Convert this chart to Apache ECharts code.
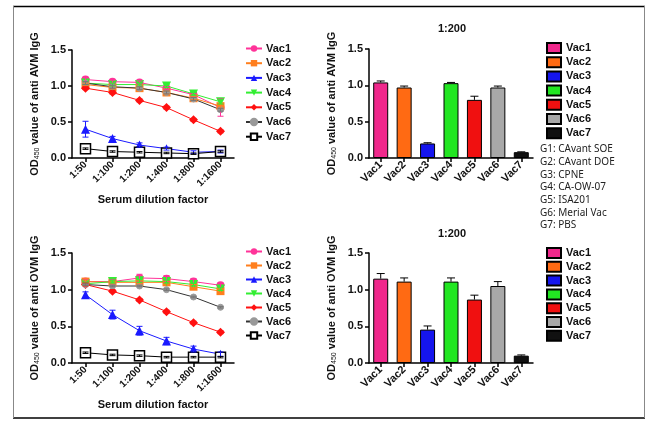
<!DOCTYPE html>
<html><head><meta charset="utf-8">
<script src="https://cdn.jsdelivr.net/npm/echarts@6/dist/echarts.min.js"></script>
<style>html,body{margin:0;padding:0;background:#fff}#c{width:666px;height:424px}</style>
</head><body><div id="c"></div>
<script>
const dilutions = ['1:50','1:100','1:200','1:400','1:800','1:1600'];
const groups = ['Vac1','Vac2','Vac3','Vac4','Vac5','Vac6','Vac7'];
const groupNotes = ['G1: CAvant SOE','G2: CAvant DOE','G3: CPNE','G4: CA-OW-07','G5: ISA201','G6: Merial Vac','G7: PBS'];
const yTicks = [0, 0.5, 1.0, 1.5];

// anti-AVM IgG, dilution series (mean)
const avmVac1 = [1.09,1.06,1.05,0.97,0.88,0.70];
const avmVac2 = [1.02,0.98,0.97,0.91,0.83,0.72];
const avmVac3 = [0.40,0.27,0.18,0.13,0.08,0.09];
const avmVac4 = [1.04,1.02,1.02,1.00,0.89,0.78];
const avmVac5 = [0.97,0.91,0.80,0.70,0.53,0.37];
const avmVac6 = [1.04,0.99,0.97,0.91,0.82,0.67];
const avmVac7 = [0.13,0.09,0.08,0.07,0.06,0.09];
// error (SEM)
const avmErr1 = [0.03,0.02,0.02,0.02,0.02,0.12];
const avmErr2 = [0.02,0.02,0.02,0.02,0.02,0.03];
const avmErr3 = [0.11,0.03,0.03,0.02,0.02,0.02];
const avmErr4 = [0.02,0.02,0.02,0.02,0.02,0.03];
const avmErr5 = [0.02,0.02,0.02,0.02,0.02,0.02];
const avmErr6 = [0.02,0.02,0.02,0.02,0.02,0.02];
const avmErr7 = [0.01,0.01,0.01,0.01,0.01,0.01];

// anti-OVM IgG, dilution series (mean)
const ovmVac1 = [1.11,1.11,1.16,1.15,1.11,1.06];
const ovmVac2 = [1.11,1.10,1.10,1.10,1.04,0.98];
const ovmVac3 = [0.93,0.66,0.44,0.30,0.19,0.12];
const ovmVac4 = [1.08,1.11,1.12,1.11,1.07,1.01];
const ovmVac5 = [1.07,0.98,0.86,0.70,0.55,0.42];
const ovmVac6 = [1.07,1.05,1.05,1.00,0.90,0.76];
const ovmVac7 = [0.14,0.11,0.10,0.08,0.08,0.08];
const ovmErr1 = [0.03,0.03,0.05,0.04,0.04,0.03];
const ovmErr2 = [0.02,0.02,0.02,0.02,0.03,0.03];
const ovmErr3 = [0.04,0.06,0.06,0.05,0.04,0.03];
const ovmErr4 = [0.02,0.02,0.02,0.02,0.02,0.02];
const ovmErr5 = [0.02,0.02,0.02,0.02,0.02,0.02];
const ovmErr6 = [0.01,0.01,0.01,0.01,0.01,0.01];
const ovmErr7 = [0.01,0.01,0.01,0.01,0.01,0.01];

// 1:200 bars
const avmBar = [1.04,0.97,0.20,1.03,0.80,0.97,0.08];
const avmBarErr = [0.02,0.02,0.01,0.01,0.05,0.02,0.005];
const ovmBar = [1.15,1.11,0.455,1.11,0.865,1.05,0.10];
const ovmBarErr = [0.07,0.05,0.05,0.05,0.06,0.06,0.01];

const FONT = 'Liberation Sans, Arial, sans-serif';
const lineColors = ['#ff3399','#ff7f1e','#1a1aff','#33ee33','#ff1111','#999999','#000000'];
const lineStroke = ['#ff3399','#ff7f1e','#1a1aff','#33ee33','#ff1111','#333333','#000000'];
const symbols = ['circle','rect','triangle','triangle','diamond','circle','rect'];
const symRot = [0,0,0,180,0,0,0];
const symSize = [8,8,9,9,9,6,10];
const barColors = ['#f0288c','#ff6a13','#1515ee','#22e622','#f01010','#a8a8a8','#111111'];

const avmLines = [avmVac1,avmVac2,avmVac3,avmVac4,avmVac5,avmVac6,avmVac7];
const avmErrs = [avmErr1,avmErr2,avmErr3,avmErr4,avmErr5,avmErr6,avmErr7];
const ovmLines = [ovmVac1,ovmVac2,ovmVac3,ovmVac4,ovmVac5,ovmVac6,ovmVac7];
const ovmErrs = [ovmErr1,ovmErr2,ovmErr3,ovmErr4,ovmErr5,ovmErr6,ovmErr7];

function errSeries(axis, vals, errs, color, both, cap) {
  return {
    type: 'custom', xAxisIndex: axis, yAxisIndex: axis, silent: true, z: 5,
    data: vals.map((v, i) => (v === '-' ? null : [i, v, errs[i]])).filter(d => d),
    renderItem(params, api) {
      const x = api.value(0), v = api.value(1), e = api.value(2);
      const top = api.coord([x, v + e]);
      const bot = api.coord([x, both ? v - e : v]);
      const ch = [
        {type:'line', shape:{x1:top[0],y1:top[1],x2:bot[0],y2:bot[1]}, style:{stroke:color, lineWidth:1}},
        {type:'line', shape:{x1:top[0]-cap,y1:top[1],x2:top[0]+cap,y2:top[1]}, style:{stroke:color, lineWidth:1}}
      ];
      if (both) ch.push({type:'line', shape:{x1:bot[0]-cap,y1:bot[1],x2:bot[0]+cap,y2:bot[1]}, style:{stroke:color, lineWidth:1}});
      return {type:'group', children: ch};
    }
  };
}

const axisLineStyle = {show:true, lineStyle:{color:'#000', width:1.5}};
const tickStyle = {show:true, inside:false, length:4, lineStyle:{color:'#000', width:1.5}};

function yAxis(gi, label) {
  return {
    type:'value', gridIndex: gi, min:0, max:1.5, interval:0.5,
    splitLine:{show:false}, axisLine: axisLineStyle, axisTick: tickStyle,
    axisLabel:{fontFamily:FONT, fontWeight:'bold', fontSize:11, color:'#111', margin:6,
      formatter: v => yTicks.includes(v) ? v.toFixed(1) : ''},
    name: '{a|OD}{s|450}{a| value of anti ' + label + ' IgG}',
    nameLocation:'middle', nameGap: 32, nameRotate: 90,
    nameTextStyle:{ rich:{
      a:{fontFamily:FONT, fontWeight:'bold', fontSize:11, color:'#111', lineHeight:13, verticalAlign:'bottom'},
      s:{fontFamily:FONT, fontSize:7, color:'#111', lineHeight:13, verticalAlign:'bottom', padding:[0,0,-1,0]}
    }}
  };
}

function xLineAxis(gi) {
  return {
    type:'category', gridIndex: gi, data: dilutions, boundaryGap: true,
    axisLine: axisLineStyle, axisTick: Object.assign({alignWithLabel:true}, tickStyle),
    axisLabel:{rotate:45, fontFamily:FONT, fontWeight:'bold', fontSize:10, color:'#111', margin:5, interval:0},
    name:'Serum dilution factor', nameLocation:'middle', nameGap: 36,
    nameTextStyle:{fontFamily:FONT, fontWeight:'bold', fontSize:11, color:'#111'}
  };
}
function xBarAxis(gi) {
  return {
    type:'category', gridIndex: gi, data: groups, boundaryGap: true,
    axisLine: axisLineStyle, axisTick: Object.assign({alignWithLabel:true}, tickStyle),
    axisLabel:{rotate:45, fontFamily:FONT, fontWeight:'bold', fontSize:11, color:'#111', margin:5, interval:0}
  };
}

const series = [];
function addLines(axis, lines, errs, prefix) {
  lines.forEach((vals, k) => {
    series.push({
      type:'line', name: prefix + groups[k], xAxisIndex: axis, yAxisIndex: axis, data: vals,
      symbol: symbols[k], symbolSize: symSize[k], symbolRotate: symRot[k], showAllSymbol: true,
      lineStyle:{color: lineStroke[k], width:1},
      itemStyle: k === 6 ? {color:'#fff', borderColor:'#000', borderWidth:1.5}
                         : {color: lineColors[k], borderColor: lineColors[k], borderWidth: k===5?1:0},
      z: 3, animation:false
    });
    series.push(errSeries(axis, vals, errs[k], lineColors[k] === '#999999' ? '#777' : lineColors[k], true, 3));
  });
}
function addBars(axis, vals, errs, prefix) {
  groups.forEach((g, k) => {
    const d = groups.map((_, i) => i === k ? vals[k] : '-');
    series.push({
      type:'bar', name: prefix + g, xAxisIndex: axis, yAxisIndex: axis, data: d,
      barWidth: 15, barGap: '-100%',
      itemStyle:{color: barColors[k], borderColor:'#000', borderWidth:1},
      animation:false
    });
    const e = groups.map((_, i) => i === k ? errs[k] : 0);
    series.push(errSeries(axis, d, e, '#000', false, 4));
  });
}
addLines(0, avmLines, avmErrs, 'a:');
addBars(1, avmBar, avmBarErr, 'b:');
addLines(2, ovmLines, ovmErrs, 'c:');
addBars(3, ovmBar, ovmBarErr, 'd:');

const strip = n => n.slice(2);
function lineLegend(top, prefix, gap) {
  return {
    data: groups.map(g => prefix + g), formatter: strip,
    left: 240, top: top, orient:'vertical', itemWidth:16, itemHeight:8, itemGap:gap,
    textStyle:{fontFamily:FONT, fontWeight:'bold', fontSize:11, color:'#111', padding:[0,0,0,-1]},
    selectedMode:false
  };
}
function barLegend(top, prefix, gap) {
  return {
    data: groups.map(g => ({name: prefix + g, icon:'rect'})), formatter: strip,
    left: 541, top: top, orient:'vertical', itemWidth:14, itemHeight:10, itemGap:gap,
    textStyle:{fontFamily:FONT, fontWeight:'bold', fontSize:11, color:'#111'},
    selectedMode:false
  };
}

const chart = echarts.init(document.getElementById('c'), null, {renderer:'canvas'});
chart.setOption({
  animation:false,
  grid:[
    {left:72, top:50, width:162, height:108},
    {left:369, top:49, width:164, height:109},
    {left:72, top:253, width:162, height:110},
    {left:369, top:253, width:164, height:110}
  ],
  xAxis:[xLineAxis(0), xBarAxis(1), xLineAxis(2), xBarAxis(3)],
  yAxis:[yAxis(0,'AVM'), yAxis(1,'AVM'), yAxis(2,'OVM'), yAxis(3,'OVM')],
  legend:[
    lineLegend(38, 'a:', 3.7),
    barLegend(37, 'b:', 2.2),
    lineLegend(241, 'c:', 3),
    barLegend(242, 'd:', 1.8)
  ],
  graphic:[
    {type:'line', shape:{x1:13,y1:6.5,x2:645,y2:6.5}, style:{stroke:'#000', lineWidth:1.5}},
    {type:'line', shape:{x1:13,y1:418,x2:645,y2:418}, style:{stroke:'#000', lineWidth:1.5}},
    {type:'line', shape:{x1:13.5,y1:6,x2:13.5,y2:418}, style:{stroke:'#888', lineWidth:1}},
    {type:'line', shape:{x1:644.5,y1:6,x2:644.5,y2:418}, style:{stroke:'#888', lineWidth:1}},
    {type:'text', x:452, y:29, style:{text:'1:200', textAlign:'center', textVerticalAlign:'middle', font:'bold 11px ' + FONT, fill:'#111'}},
    {type:'text', x:452, y:234, style:{text:'1:200', textAlign:'center', textVerticalAlign:'middle', font:'bold 11px ' + FONT, fill:'#111'}},
    {type:'text', x:540, y:143, style:{text: groupNotes.join('\n'), lineHeight:12.7, font:'10px "Noto Sans", sans-serif', fill:'#222'}}
  ],
  series: series
});
</script></body></html>
